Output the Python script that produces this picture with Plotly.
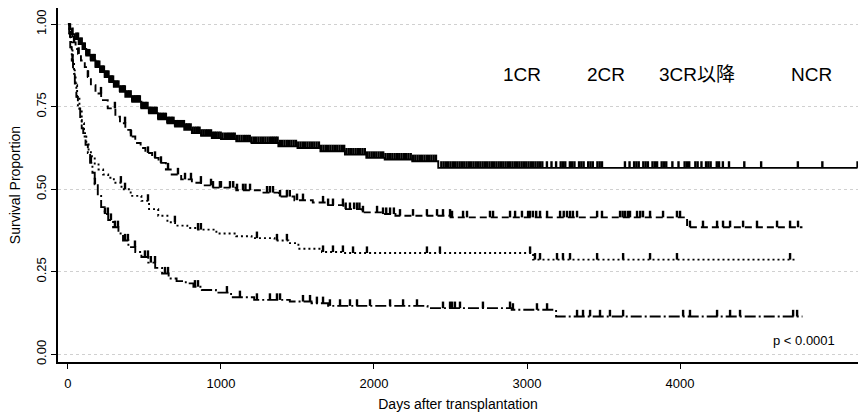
import numpy as np
import plotly.graph_objects as go

# Kaplan-Meier step data (days, survival proportion) for each remission group
groups = ["1CR", "2CR", "3CR以降", "NCR"]

t_1cr = [0, 10, 25, 45, 70, 95, 120, 150, 180, 210, 240, 270, 300, 340, 375, 420, 480,
         530, 590, 650, 700, 760, 810, 870, 940, 1000, 1100, 1200, 1375, 1500, 1650,
         1810, 1950, 2070, 2250, 2420, 5160]
s_1cr = [1.0, 0.985, 0.97, 0.955, 0.94, 0.925, 0.905, 0.89, 0.87, 0.855, 0.84, 0.825,
         0.81, 0.795, 0.78, 0.765, 0.745, 0.73, 0.712, 0.70, 0.69, 0.68, 0.67, 0.662,
         0.655, 0.652, 0.645, 0.64, 0.63, 0.625, 0.615, 0.605, 0.595, 0.59, 0.585,
         0.565, 0.565]

t_2cr = [0, 15, 30, 50, 66, 85, 110, 130, 150, 180, 217, 260, 310, 340, 375, 410, 440,
         475, 506, 550, 592, 640, 678, 740, 810, 870, 940, 1100, 1263, 1380, 1480, 1600,
         1700, 1800, 1920, 2050, 2140, 2500, 4046, 4800]
s_2cr = [1.0, 0.97, 0.945, 0.925, 0.91, 0.89, 0.87, 0.84, 0.815, 0.79, 0.77, 0.745,
         0.72, 0.70, 0.68, 0.66, 0.64, 0.625, 0.61, 0.595, 0.58, 0.56, 0.545, 0.53,
         0.52, 0.512, 0.505, 0.497, 0.49, 0.478, 0.467, 0.46, 0.452, 0.44, 0.43, 0.425,
         0.42, 0.415, 0.385, 0.385]

t_3cr = [0, 10, 20, 30, 40, 50, 60, 75, 90, 105, 120, 135, 150, 175, 200, 230, 263, 300,
         350, 410, 480, 530, 590, 650, 700, 780, 850, 970, 1100, 1200, 1350, 1440, 1506,
         1660, 1800, 3040, 4750]
s_3cr = [1.0, 0.96, 0.93, 0.89, 0.85, 0.815, 0.78, 0.74, 0.70, 0.67, 0.64, 0.62, 0.60,
         0.575, 0.56, 0.545, 0.535, 0.52, 0.50, 0.48, 0.465, 0.44, 0.42, 0.40, 0.39,
         0.383, 0.378, 0.366, 0.358, 0.352, 0.345, 0.337, 0.32, 0.31, 0.307, 0.287,
         0.287]

t_ncr = [0, 8, 15, 25, 33, 45, 55, 65, 80, 90, 100, 115, 130, 145, 160, 175, 195, 217,
         240, 263, 295, 330, 360, 395, 440, 480, 525, 570, 615, 658, 710, 770, 820, 875,
         967, 1066, 1217, 1450, 1592, 1700, 2350, 2900, 3190, 4800]
s_ncr = [1.0, 0.97, 0.93, 0.89, 0.86, 0.82, 0.78, 0.745, 0.71, 0.685, 0.66, 0.635, 0.61,
         0.58, 0.55, 0.515, 0.48, 0.446, 0.425, 0.407, 0.385, 0.366, 0.345, 0.325, 0.31,
         0.295, 0.278, 0.262, 0.245, 0.23, 0.222, 0.215, 0.205, 0.195, 0.187, 0.173,
         0.165, 0.16, 0.155, 0.147, 0.14, 0.135, 0.115, 0.115]

# Censoring times (days) for each group
c_1cr = [30, 55, 80, 100, 120, 140, 160, 175, 190, 205, 220, 235, 250, 265, 280, 295, 310,
         330, 350, 365, 380, 400, 420, 440, 455, 470, 490, 510, 530, 545, 560, 580, 600,
         620, 640, 660, 680, 700, 720, 745, 770, 790, 815, 840, 860, 885, 910, 935, 960,
         985, 1010, 1040, 1065, 1090, 1120, 1150, 1175, 1200, 1230, 1260, 1290, 1320,
         1345, 1370, 1400, 1430, 1460, 1490, 1520, 1550, 1580, 1610, 1640, 1670, 1700,
         1730, 1760, 1790, 1820, 1850, 1880, 1910, 1940, 1970, 2000, 2030, 2060, 2090,
         2120, 2150, 2180, 2210, 2240, 2270, 2300, 2330, 2360, 2390, 2440, 2470, 2500,
         2530, 2560, 2590, 2620, 2650, 2680, 2710, 2740, 2770, 2800, 2830, 2860, 2890,
         2920, 2950, 2980, 3010, 3040, 3070, 3100, 3130, 3160, 3190, 3220, 3250, 3280,
         3310, 3340, 3370, 3400, 3430, 3460, 3490, 3640, 3670, 3700, 3730, 3760, 3790,
         3820, 3850, 3880, 3910, 3950, 3990, 4030, 4060, 4100, 4140, 4170, 4200, 4240,
         4280, 4320, 4420, 4530, 4770, 4930, 5160,
         66, 90, 110, 130, 150, 168, 183, 198, 212, 228, 243, 258, 272, 288, 302, 320,
         340, 358, 372, 390, 410, 430, 448, 462, 480, 500, 520, 538, 552, 570, 590, 610,
         630, 650, 670, 690, 710, 732, 758, 780, 802, 828, 850, 872, 898, 922, 948, 972,
         998, 1025, 1052, 1078, 1105, 1135, 1162, 1188, 1215, 1245, 1275, 1305, 1333,
         1358, 1385, 1415, 1445, 1475, 1505, 1535, 1565, 1595, 1625, 1655, 1685, 1715,
         1745, 1775, 1805, 1835, 1865, 1895, 1925, 1955, 1985, 2015, 2045, 2075, 2105,
         2135, 2165, 2195, 2225, 2255, 2285, 2315, 2345, 2375, 2405, 2455, 2485, 2515,
         2545, 2575, 2605, 2635, 2665, 2695, 2725, 2755, 2785, 2815, 2845, 2875, 2905,
         2935, 2965, 2995, 3025, 3055, 3085, 3235, 3295, 3355, 3415, 3475, 3715, 3775,
         3835, 3895, 4045, 4115, 4185, 4255]
c_2cr = [40, 70, 131, 216, 307, 373, 412, 523, 569, 608, 654, 719, 765, 804, 869, 935,
         948, 993, 1059, 1105, 1144, 1190, 1301, 1340, 1386, 1431, 1497, 1536, 1667,
         1732, 1797, 1843, 1889, 1928, 2020, 2059, 2105, 2170, 2255, 2346, 2412, 2451,
         2497, 2510, 2582, 2608, 2758, 2778, 2889, 2922, 2967, 3007, 3039, 3085, 3131,
         3216, 3261, 3281, 3327, 3458, 3490, 3608, 3641, 3673, 3719, 3758, 3804, 3889,
         3980, 4000, 4065, 4150, 4242, 4281, 4327, 4412, 4503, 4634, 4719, 4771,
         1000, 1080, 1160, 1320, 1450, 1700, 1815, 1870, 1905, 2080, 2130, 3020, 3060,
         3240, 3300, 3625, 3660, 3740]
c_3cr = [15, 30, 346, 373, 523, 699, 850, 869, 1235, 1366, 1431, 1667, 1732, 1797, 1863,
         1954, 2346, 2431, 3020, 3052, 3085, 3196, 3235, 3281, 3458, 3628, 3804, 3980,
         4719]
c_ncr = [150, 176, 242, 261, 281, 307, 327, 373, 392, 438, 503, 523, 542, 569, 634, 654,
         830, 850, 1039, 1124, 1235, 1320, 1366, 1386, 1536, 1582, 1627, 1667, 1712,
         1778, 1843, 1889, 1974, 2105, 2190, 2281, 2451, 2497, 2510, 2529, 2562, 2712,
         2889, 2908, 3065, 3131, 3327, 3366, 3412, 3477, 3542, 3628, 4020, 4065, 4242,
         4327, 4392, 4739, 4765]

x_ticks = [0, 1000, 2000, 3000, 4000]
y_ticks = [0.0, 0.25, 0.5, 0.75, 1.0]
y_tick_text = ["0.00", "0.25", "0.50", "0.75", "1.00"]
p_text = "p < 0.0001"

series = [
    (groups[0], t_1cr, s_1cr, c_1cr, "solid"),
    (groups[1], t_2cr, s_2cr, c_2cr, "7px,4px"),
    (groups[2], t_3cr, s_3cr, c_3cr, "2px,3px"),
    (groups[3], t_ncr, s_ncr, c_ncr, "11px,3px,2px,3px"),
]

FONT = "Liberation Sans, Arial, Noto Sans CJK JP, sans-serif"
TICK_HEIGHT = 0.02  # height of a censoring tick, in survival units

fig = go.Figure()
for name, t, s, c, dash in series:
    fig.add_trace(go.Scatter(
        x=t, y=s, mode="lines", line_shape="hv", name=name,
        line=dict(color="black", width=1.9, dash=dash), showlegend=False,
    ))
    t_arr = np.asarray(t, dtype=float)
    s_arr = np.asarray(s, dtype=float)
    idx = np.searchsorted(t_arr, np.asarray(c, dtype=float), side="right") - 1
    # censoring ticks rise from the curve (one-sided error bar, no cap)
    fig.add_trace(go.Scatter(
        x=c, y=s_arr[idx], mode="markers", name=name + " censored",
        marker=dict(size=1, color="black", opacity=0),
        error_y=dict(type="constant", value=TICK_HEIGHT, valueminus=0,
                     symmetric=False, width=0, thickness=2.4, color="black"),
        showlegend=False, hoverinfo="skip",
    ))

# Group labels across the top right
label_x = [522, 606, 697, 811]
for name, px in zip(groups, label_x):
    fig.add_annotation(
        x=(px - 58) / 800, y=(362 - 75) / 354, xref="paper", yref="paper",
        text=name, showarrow=False, font=dict(size=19, color="black", family=FONT),
        xanchor="center", yanchor="middle",
    )

fig.add_annotation(
    x=(804 - 58) / 800, y=(362 - 340) / 354, xref="paper", yref="paper",
    text=p_text, showarrow=False, font=dict(size=13, color="black", family=FONT),
    xanchor="center", yanchor="middle",
)

fig.update_layout(
    width=858, height=414,
    margin=dict(l=58, r=0, t=8, b=52),
    paper_bgcolor="white", plot_bgcolor="white",
    font=dict(family=FONT, color="black"),
    xaxis=dict(
        range=[-65, 5163], tickvals=x_ticks, ticks="outside", ticklen=5,
        tickwidth=1.2, tickcolor="black", showline=True, linecolor="black",
        linewidth=2, showgrid=False, zeroline=False, ticklabelstandoff=3,
        tickfont=dict(size=13, color="black"),
        title=dict(text="Days after transplantation", font=dict(size=14), standoff=10),
    ),
    yaxis=dict(
        range=[-0.023, 1.049], tickvals=y_ticks, ticktext=y_tick_text,
        tickangle=-90, ticks="outside", ticklen=5, tickwidth=1.2, tickcolor="black",
        showline=True, linecolor="black", linewidth=2, showgrid=True,
        gridcolor="#d0d0d0", griddash="dot", gridwidth=1, zeroline=False,
        tickfont=dict(size=13, color="black"),
        title=dict(text="Survival Proportion", font=dict(size=14), standoff=10),
    ),
)

fig.write_html("out.html")
